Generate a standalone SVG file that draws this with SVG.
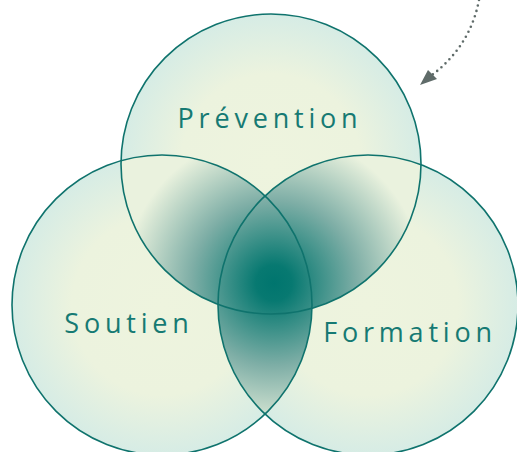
<svg xmlns="http://www.w3.org/2000/svg" width="517" height="452" viewBox="0 0 517 452">
<defs>
<style>
.c{stroke:#0f736d;stroke-width:1.6;fill:none}
.t{font-family:"Open Sans","Noto Sans",sans-serif;font-size:27px;fill:#167a73;letter-spacing:4.8px}
</style>
<radialGradient id="lt" cx="0.5" cy="0.5" r="0.5">
<stop offset="0" stop-color="#eef4de"/>
<stop offset="0.6" stop-color="#ecf3de"/>
<stop offset="1" stop-color="#d6ece5"/>
</radialGradient>
<radialGradient id="dk" gradientUnits="userSpaceOnUse" cx="274" cy="283" r="150">
<stop offset="0" stop-color="#00756e"/>
<stop offset="0.12" stop-color="#077971"/>
<stop offset="0.55" stop-color="#7eaea6"/>
<stop offset="1" stop-color="#eaf2de"/>
</radialGradient>
<clipPath id="cT"><circle cx="271" cy="164" r="150"/></clipPath>
<clipPath id="cL"><circle cx="162" cy="305" r="150"/></clipPath>
<clipPath id="cR"><circle cx="368" cy="305" r="150"/></clipPath>
</defs>
<g id="fills">
<circle cx="271" cy="164" r="150" fill="url(#lt)"/>
<circle cx="162" cy="305" r="150" fill="url(#lt)"/>
<circle cx="368" cy="305" r="150" fill="url(#lt)"/>
<g clip-path="url(#cT)"><circle cx="162" cy="305" r="150" fill="url(#dk)"/></g>
<g clip-path="url(#cT)"><circle cx="368" cy="305" r="150" fill="url(#dk)"/></g>
<g clip-path="url(#cL)"><circle cx="368" cy="305" r="150" fill="url(#dk)"/></g>
</g>
<g id="prevention"><circle class="c" cx="271" cy="164" r="150"/><text class="t" x="270" y="128" text-anchor="middle">Prévention</text></g>
<g id="soutien"><circle class="c" cx="162" cy="305" r="150"/><text class="t" x="129" y="333" text-anchor="middle">Soutien</text></g>
<g id="formation"><circle class="c" cx="368" cy="305" r="150"/><text class="t" x="410" y="342" text-anchor="middle">Formation</text></g>
<g id="connectors">
<path d="M479 0 Q470 48 428 78" fill="none" stroke="#5f6b69" stroke-width="2.6" stroke-linecap="round" stroke-dasharray="0 5.6"/>
<path d="M437 79 L420 85 L428 70 Z" fill="#5f6b69"/>
</g>
</svg>
